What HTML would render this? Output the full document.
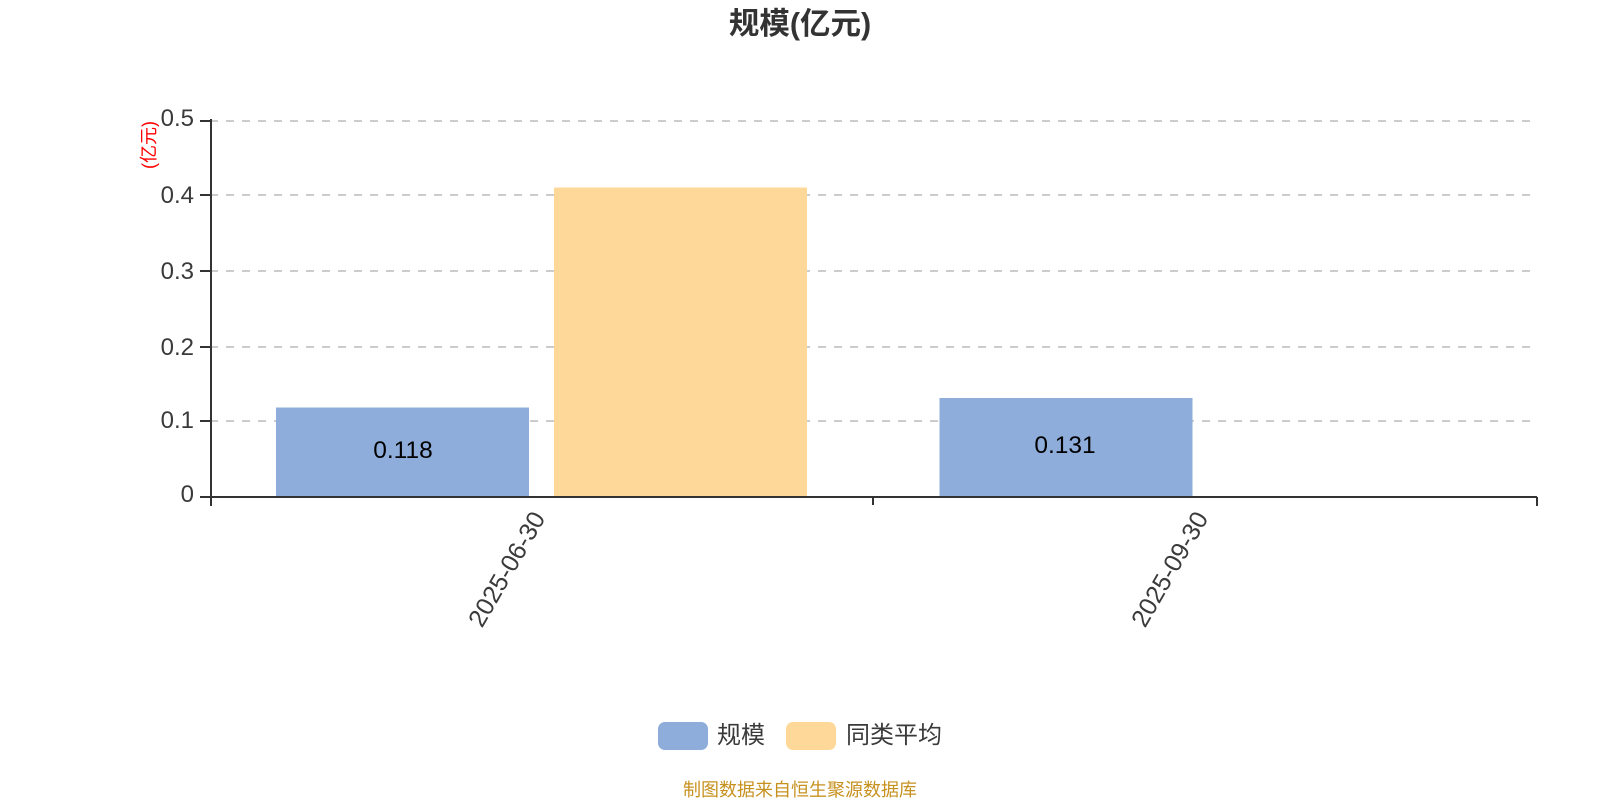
<!DOCTYPE html>
<html><head><meta charset="utf-8">
<style>
html,body{margin:0;padding:0;background:#fff;width:1600px;height:800px;overflow:hidden}
svg{display:block}
text{font-family:"Liberation Sans","Noto Sans CJK SC",sans-serif}
</style></head>
<body>
<svg width="1600" height="800" viewBox="0 0 1600 800" xmlns="http://www.w3.org/2000/svg">
<rect width="1600" height="800" fill="#fff"/>
<text x="800" y="34" text-anchor="middle" font-size="30.500" font-weight="bold" fill="#333">规模(亿元)</text>
<g stroke="#ccc" stroke-width="2" stroke-dasharray="8 8" fill="none">
<path d="M210 121H1536"/><path d="M210 195H1536"/><path d="M210 271H1536"/><path d="M210 347H1536"/><path d="M210 421H1536"/>
</g>
<rect x="276" y="407.500" width="253" height="89.500" fill="#8eadda"/>
<rect x="554" y="187.500" width="253" height="309.500" fill="#fed899"/>
<rect x="939.500" y="398" width="253" height="99" fill="#8eadda"/>
<g stroke="#333" stroke-width="2" fill="none">
<path d="M211 119V506"/>
<path d="M200 497H1537"/>
<path d="M200 121H211M200 195H211M200 271H211M200 347H211M200 421H211"/>
<path d="M873 497V505M1537 497V506"/>
</g>
<g font-size="24" fill="#3a3a3a" text-anchor="end">
<text x="194" y="126">0.5</text>
<text x="194" y="203">0.4</text>
<text x="194" y="279">0.3</text>
<text x="194" y="355">0.2</text>
<text x="194" y="428">0.1</text>
<text x="194" y="502">0</text>
</g>
<text transform="translate(155 145) rotate(-90)" text-anchor="middle" font-size="18" fill="#f00">(亿元)</text>
<text x="403" y="458" text-anchor="middle" font-size="24.500" fill="#000">0.118</text>
<text x="1065" y="453" text-anchor="middle" font-size="24.500" fill="#000">0.131</text>
<g font-size="25" fill="#3a3a3a" text-anchor="end">
<text transform="translate(546 518) rotate(-60)">2025-06-30</text>
<text transform="translate(1209 518) rotate(-60)">2025-09-30</text>
</g>
<rect x="658" y="722" width="50" height="28" rx="7" fill="#8eadda"/>
<text x="717" y="743" font-size="24" fill="#3a3a3a">规模</text>
<rect x="786" y="722" width="50" height="28" rx="7" fill="#fed899"/>
<text x="846" y="743" font-size="24" fill="#3a3a3a">同类平均</text>
<text x="800" y="796" text-anchor="middle" font-size="18" fill="#c7911f">制图数据来自恒生聚源数据库</text>
</svg>
</body></html>
